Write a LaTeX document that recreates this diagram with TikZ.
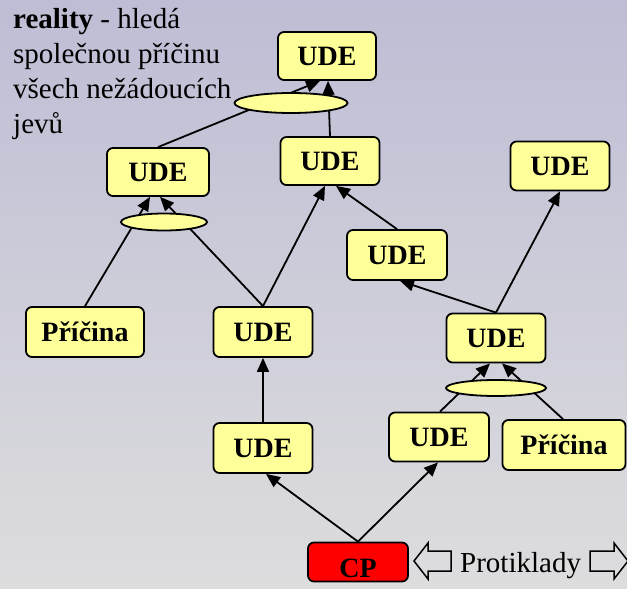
\documentclass[tikz,border=0pt]{standalone}
\usepackage{fontspec}
\setmainfont{Liberation Serif}
\usetikzlibrary{arrows.meta,shapes.geometric}
\definecolor{boxyellow}{RGB}{255,255,153}
\definecolor{bgtop}{RGB}{190,189,213}
\definecolor{bgbot}{RGB}{221,221,222}
\definecolor{cpred}{RGB}{255,0,0}
\begin{document}
\begin{tikzpicture}[x=1pt,y=-1pt,
  box/.style={draw, line width=1.8pt, rounded corners=6pt, fill=boxyellow, inner sep=0pt,
    font=\fontsize{28}{30}\selectfont\bfseries, text height=19pt, text depth=0pt,
    minimum width=99pt, minimum height=49pt},
  link/.style={line width=1.8pt, -{Triangle[length=14pt,width=12pt]}},
  oval/.style={ellipse, draw, line width=1.8pt, fill=boxyellow, inner sep=0pt},
  txt/.style={anchor=base west, inner sep=0pt, font=\fontsize{29}{35}\selectfont}]
\shade[top color=bgtop, bottom color=bgbot] (0,0) rectangle (627,589);
\useasboundingbox (0,0) rectangle (627,589);

% text
\node[txt] (l1) at (13,28) {\textbf{reality} - hledá};
\node[txt] (l2) at (13,63) {společnou příčinu};
\node[txt] (l3) at (13,98) {všech nežádoucích};
\node[txt] (l4) at (13,133) {jevů};

% boxes
\node[box, minimum width=98pt, minimum height=48pt] (t) at (327,56) {UDE};
\node[box, minimum width=102pt, minimum height=48pt] (l) at (158,172) {UDE};
\node[box, minimum height=48pt] (m) at (330,161) {UDE};
\node[box] (r) at (560,166) {UDE};
\node[box, minimum width=100pt, minimum height=50pt] (u2) at (397,255) {UDE};
\node[box, minimum width=118pt, minimum height=50pt] (p1) at (85,332) {Příčina};
\node[box, minimum height=50pt] (c) at (263,332) {UDE};
\node[box] (ur) at (496,338) {UDE};
\node[box, minimum height=50pt] (ll) at (263,448) {UDE};
\node[box, minimum width=100pt] (lr) at (439,437) {UDE};
\node[box, minimum width=123pt, minimum height=50pt] (p2) at (564,445) {Příčina};
\node[box, fill=cpred, minimum width=100pt, minimum height=39pt, text height=33pt, text depth=3pt] (cp) at (358,562) {CP};

% connectors
\draw[link] (l.north) -- ([xshift=-7pt]t.south);
\draw[link] (m.north) -- ([xshift=1pt]t.south);
\draw[link] (p1.north) -- ([xshift=-8pt]l.south);
\draw[link] (c.north) -- ([xshift=2pt]l.south);
\draw[link] (c.north) -- ([xshift=-5pt]m.south);
\draw[link] (u2.north) -- ([xshift=6pt]m.south);
\draw[link] (ur.north) -- ([xshift=3pt]u2.south);
\draw[link] (ur.north) -- (r.south);
\draw[link] (ll.north) -- (c.south);
\draw[link] ([xshift=1pt]lr.north) -- ([xshift=-6pt]ur.south);
\draw[link] ([xshift=-1pt]p2.north) -- ([xshift=6pt]ur.south);
\draw[link] (cp.north) -- ([xshift=3pt]ll.south);
\draw[link] (cp.north) -- ([xshift=-1pt]lr.south);

% ellipses (AND junctions)
\node[oval, minimum width=113pt, minimum height=20pt] (e1) at (291,103) {};
\node[oval, minimum width=86pt, minimum height=17pt] (e2) at (164,222) {};
\node[oval, minimum width=100pt, minimum height=16pt] (e3) at (496,388) {};

% Protiklady with hollow arrows
\node[anchor=base west, inner sep=0pt, font=\fontsize{29}{35}\selectfont] (prot) at (460,572) {Protiklady};
\draw[line width=1.5pt, line join=miter] (414,561) -- (428,543) -- (428,551) -- (451,551) -- (451,571) -- (428,571) -- (428,579) -- cycle;
\draw[line width=1.5pt, line join=miter] (628,561) -- (614,543) -- (614,551) -- (590,551) -- (590,571) -- (614,571) -- (614,579) -- cycle;
\end{tikzpicture}
\end{document}
